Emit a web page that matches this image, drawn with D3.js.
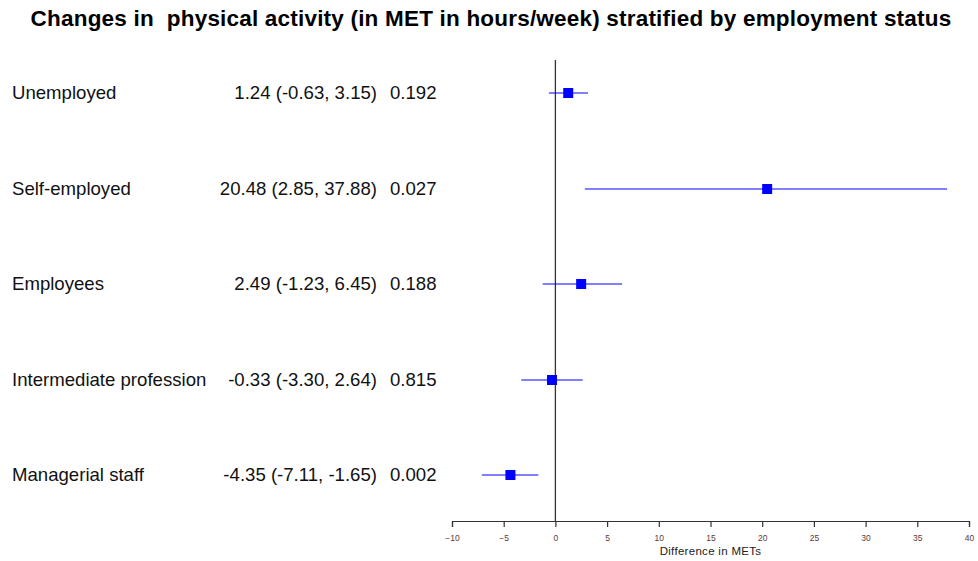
<!DOCTYPE html>
<html>
<head>
<meta charset="utf-8">
<script src="https://cdn.jsdelivr.net/npm/d3@7"></script>
<style>
  body { margin: 0; background: #fff; }
  svg { font-family: "Liberation Sans", Arial, sans-serif; }
</style>
</head>
<body>
<svg width="978" height="561"></svg>
<script>
const groups = ["Unemployed", "Self-employed", "Employees", "Intermediate profession", "Managerial staff"];
const estimates = [1.24, 20.48, 2.49, -0.33, -4.35];
const lower = [-0.63, 2.85, -1.23, -3.30, -7.11];
const upper = [3.15, 37.88, 6.45, 2.64, -1.65];
const pValues = ["0.192", "0.027", "0.188", "0.815", "0.002"];
const xTicks = [-10, -5, 0, 5, 10, 15, 20, 25, 30, 35, 40];

const rows = groups.map((g, i) => ({
    group: g, est: estimates[i], lo: lower[i], hi: upper[i], p: pValues[i]
}));

const svg = d3.select("svg");

svg.append("text")
    .attr("x", 491)
    .attr("y", 26)
    .attr("text-anchor", "middle")
    .attr("font-size", "22.5px")
    .attr("font-weight", "bold")
    .attr("letter-spacing", "0.2px")
    .style("white-space", "pre")
    .text("Changes in  physical activity (in MET in hours/week) stratified by employment status");

const x = d3.scaleLinear().domain([-10, 40]).range([452, 969]);
const yPt = d3.scalePoint().domain(groups).range([93, 475]);
const y = g => Math.round(yPt(g));
const axisY = 521;

// zero reference line
svg.append("line")
    .attr("x1", x(0)).attr("x2", x(0))
    .attr("y1", 60).attr("y2", axisY)
    .attr("stroke", "#333")
    .attr("stroke-width", 1.3);

const axis = svg.append("g")
    .attr("transform", `translate(0, ${axisY})`)
    .call(d3.axisBottom(x).tickValues(xTicks).tickSizeOuter(0).tickSize(6).tickPadding(8));

axis.select(".domain").attr("stroke", "#333").attr("stroke-width", 1.2);
axis.selectAll(".tick line").attr("stroke", "#333").attr("stroke-width", 1.2);
axis.selectAll(".tick text")
    .attr("font-size", "8.5px")
    .attr("fill", "#5a3a3a")
    .attr("font-family", "Liberation Sans, Arial, sans-serif");

svg.append("text")
    .attr("x", x(15))
    .attr("y", 555)
    .attr("text-anchor", "middle")
    .attr("font-size", "11.5px")
    .attr("letter-spacing", "0.3px")
    .attr("fill", "#222")
    .text("Difference in METs");

const row = svg.selectAll(".row")
    .data(rows)
    .enter()
    .append("g")
    .attr("class", "row");

row.append("text")
    .attr("x", 12)
    .attr("y", d => y(d.group) + 6)
    .attr("font-size", "18.6px")
    .attr("fill", "#111")
    .text(d => d.group);

row.append("text")
    .attr("x", 377)
    .attr("y", d => y(d.group) + 6)
    .attr("text-anchor", "end")
    .attr("font-size", "18.6px")
    .attr("fill", "#111")
    .text(d => `${d.est.toFixed(2)} (${d.lo.toFixed(2)}, ${d.hi.toFixed(2)})`);

row.append("text")
    .attr("x", 390)
    .attr("y", d => y(d.group) + 6)
    .attr("font-size", "18.6px")
    .attr("fill", "#111")
    .text(d => d.p);

row.append("line")
    .attr("x1", d => x(d.lo))
    .attr("x2", d => x(d.hi))
    .attr("y1", d => y(d.group))
    .attr("y2", d => y(d.group))
    .attr("stroke", "#0000ff")
    .attr("stroke-width", 1.2);

row.append("rect")
    .attr("x", d => x(d.est) - 5)
    .attr("y", d => y(d.group) - 5)
    .attr("width", 10)
    .attr("height", 10)
    .attr("fill", "#0000ff");
</script>
</body>
</html>
